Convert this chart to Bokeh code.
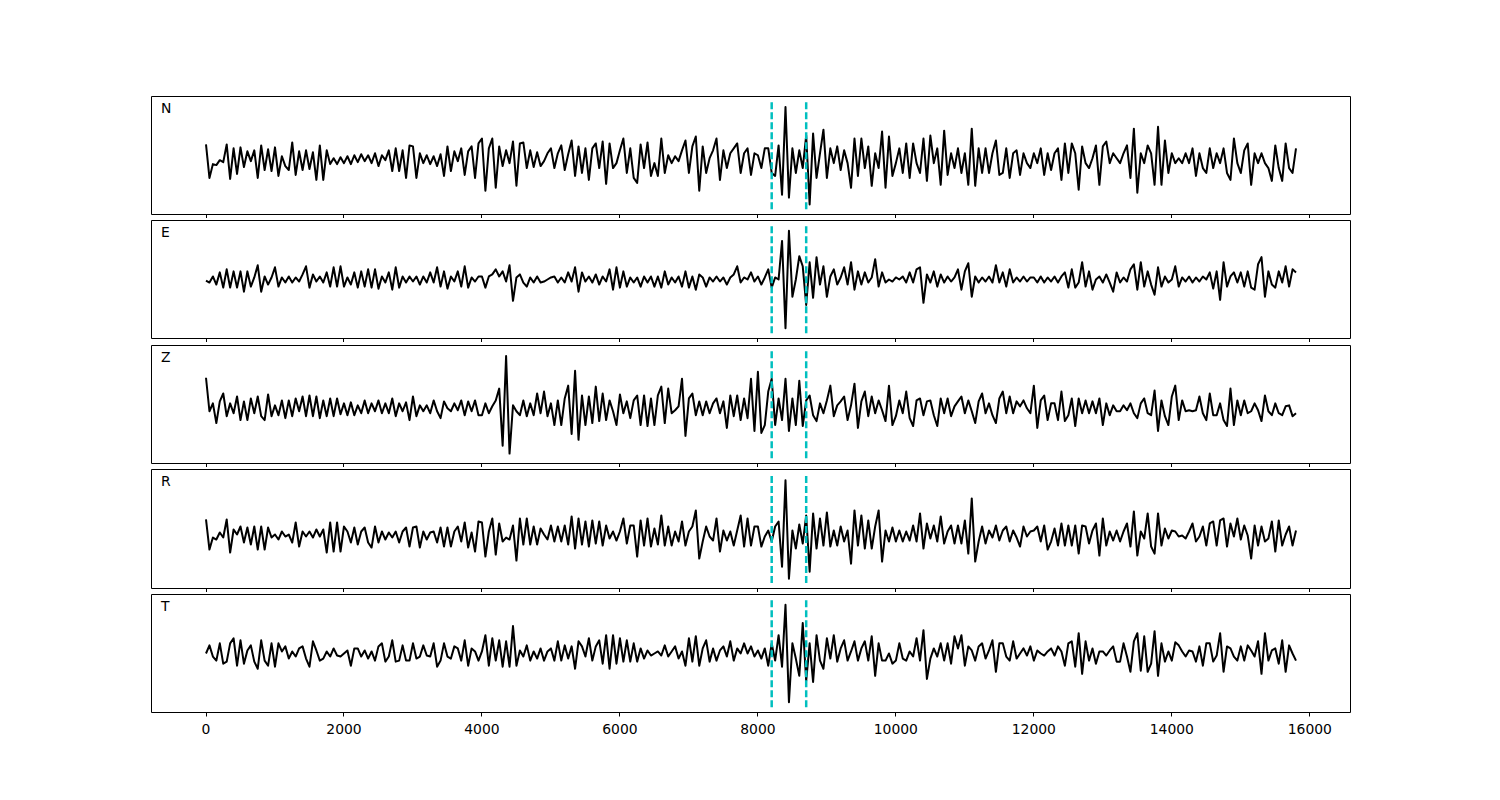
import numpy as np
from bokeh.plotting import figure
from bokeh.models import Range1d, FixedTicker, Label, CustomLabelingPolicy
from bokeh.layouts import column
from bokeh.embed import file_html
from bokeh.resources import INLINE

# ---------------- data ----------------
step = 50  # sample spacing (x units)
components = ["N", "E", "Z", "R", "T"]
picks = [8200, 8700]
x_ticks = [0, 2000, 4000, 6000, 8000, 10000, 12000, 14000, 16000]

trace_N = [
    14, -20, -6, -7, -2, -4, 14, -21, 10, -16, 11, -9, 7, -3, 8, -20, 13, -12, 9, -13,
    11, -18, 2, -8, -12, 16, -17, 7, -12, 8, -11, 6, -22, 13, -22, 8, -6, 0, -6, 1,
    -5, 2, -6, 3, -4, 4, -3, 3, -5, 5, -8, 3, -2, 8, -13, 10, -13, 8, -20, 13,
    12, -20, 5, -5, 3, -6, 2, -8, 4, -18, 12, -13, 7, -3, 10, -17, 7, 12, -20, 15,
    20, -33, 10, 20, -30, 12, -8, 8, -5, 17, -28, 15, 16, -10, 8, -9, 6, -8, -3, 5,
    10, -10, 5, 13, -12, 4, 18, -18, 12, -15, 10, -22, 10, 15, -10, 17, -26, 15, -10, -5,
    8, 20, -15, 10, -20, -25, 14, -10, 16, -18, -5, -18, 20, -15, 3, -5, 2, -3, 8, 18,
    -15, 12, 22, -33, 12, -15, 0, 8, 20, -22, 8, -10, 5, 10, 15, -15, 5, 10, -17, 5,
    3, -10, 10, 10, -15, -18, 13, -37, 52, -40, 10, -15, 8, -10, 23, -47, 25, -20, 5, 29,
    -20, 10, -5, 12, -12, 8, -5, -30, 20, -18, 20, -10, 12, -28, 5, -10, 27, -30, 22, -18,
    -5, 10, -15, 15, -20, 15, -5, -15, 20, -23, 23, -5, 10, -27, 28, -17, 5, -10, 10, -15,
    5, -27, 30, -28, 10, -15, 10, -15, 5, 18, -17, -15, 10, -20, 5, 8, -17, 5, -5, -10,
    5, -5, 10, -17, 5, -12, 5, 10, -22, 15, -15, 15, 5, -32, 12, -5, -10, 0, 13, -27,
    12, 17, -5, 5, 0, -5, 5, 13, -20, 30, -35, 5, -5, 13, 5, -27, 32, -27, 18, -15,
    5, -5, 0, -5, 5, -5, 10, -18, 5, -10, -15, 10, -10, 5, -5, 10, -15, -22, 20, -5,
    -15, 8, 15, -27, 5, -5, 5, -5, -10, -23, 13, -10, -23, 15, -10, -15, 10,
]
trace_E = [
    -1, -3, 3, -5, 7, -8, 10, -8, 8, -8, 8, -12, 8, -7, 2, 14, -12, 3, -5, 2,
    12, -7, 2, -3, 3, -3, 2, -2, 5, 13, -8, 5, -2, 3, -3, 7, -7, 12, -7, 13,
    -7, 2, -5, 7, -8, 8, -7, 10, -8, 10, -9, 3, -3, 7, -10, 12, -8, 3, -3, 3,
    -2, 3, -5, 3, -3, 7, -3, 12, -7, 8, -9, 3, -2, 8, -7, 13, -8, 2, -2, 3,
    3, -8, 3, 5, 10, 3, 8, -2, 14, -21, 2, 5, -3, -7, 2, -3, 3, -3, -2, 0,
    2, 3, -3, 2, -3, 7, -2, 12, -12, 7, -2, 3, -3, 5, -5, 3, -2, 10, -10, 12,
    -8, 8, -7, 2, -3, 2, -7, 3, -3, 3, -7, 3, -8, 8, -5, 2, -3, 3, -7, 8,
    -8, 3, -10, 5, 2, -7, 2, -2, 3, -2, 2, -5, 2, 5, 13, -3, 2, 0, 7, -2,
    3, -5, 2, 10, -8, 2, 0, 38, -48, 48, -17, 0, 23, 13, -25, 17, -18, 22, -5, 13,
    -17, 3, 10, -5, 2, 12, -5, 17, -10, 8, -5, 7, -3, 2, 20, -7, 7, -3, 0, -2,
    2, 0, 3, -3, 7, -3, 10, 12, -23, 5, -3, 8, -7, 5, -3, 3, -2, 2, 10, -10,
    8, 16, -17, 3, -3, 2, -2, 3, -3, 14, -3, 7, -7, 10, -3, 2, -2, 3, -2, 2,
    2, -3, 3, -3, 2, -2, 3, -3, 3, 7, -8, 10, -8, -3, 17, -7, 8, -10, 0, 3,
    -3, 5, -3, -12, 7, -3, 2, -2, 10, 15, -10, 17, -7, 8, -5, -15, 12, -7, 3, -3,
    0, 13, -7, 2, -2, 3, -3, 2, -2, 3, 0, 7, -9, 8, -20, 17, -7, 3, 7, -3,
    7, -7, 8, -8, -10, 15, 22, -17, 8, -5, -8, 8, -3, 13, -7, 10, 7,
]
trace_Z = [
    31, -3, 5, -15, 7, 15, -8, 5, -5, 12, -12, 7, -12, 10, -5, 12, -8, -12, 14, -8,
    3, -7, 8, -10, 8, -8, 10, -3, 12, -8, 13, -8, 12, -10, 8, -8, 10, -8, 10, -6,
    5, -7, 6, -7, 3, -5, 8, -5, 5, -3, 8, -5, 5, -5, 10, -8, 5, -3, 6, -12,
    12, -8, 3, -3, 3, -5, 8, -3, -10, 7, 0, -3, 5, -2, 8, -7, 7, -3, 8, -7,
    -7, 5, -5, 2, 8, 20, -38, 53, -46, 3, -3, -7, 8, -8, 5, -7, 15, -5, 17, -8,
    5, -17, 8, -17, 10, 23, -26, 38, -32, 13, -17, 12, -15, 22, -13, 15, -12, 8, -3, -17,
    14, -5, 7, -10, 8, 13, -17, 13, -18, 10, -17, 13, 22, -15, 20, -5, -2, 2, 30, -28,
    10, 15, -7, 7, -7, 7, -5, 5, 10, -5, 7, -20, 13, -8, 13, -12, 10, -10, 30, -23,
    37, -25, -17, 17, 30, -17, 10, -12, 30, -23, 10, -17, 28, -18, 8, 13, -7, -13, 5, -5,
    8, 23, -8, 3, 7, 12, -12, 3, 25, -20, 7, 17, -8, 12, -5, 8, -2, -13, 23, -17,
    -8, 8, -5, 17, -10, -18, 8, 10, -7, 7, 8, -7, -18, 10, -5, 10, -8, 2, 7, 12,
    -5, 8, -3, -15, 7, 15, -5, 5, -7, -15, 10, 17, -5, 12, -5, 7, 2, 8, 0, -5,
    23, -20, 8, 13, -12, 5, 5, -12, 17, -13, -7, 10, -18, 10, -5, 8, -5, 7, -5, 10,
    -17, 5, -7, 3, -3, -3, 3, -2, 5, -5, -10, 5, 10, -5, -7, 18, -23, 8, -8, -17,
    12, 23, -12, 8, -3, -2, -3, -2, 12, -5, -12, 15, -7, -7, 5, -12, -18, 20, -17, 8,
    -7, 8, -5, -3, 5, -2, -13, 13, -3, -7, 5, -5, -7, 2, 3, -8, -5,
]
trace_R = [
    15, -15, -3, -5, 2, -3, 15, -18, 5, 0, 8, -8, 7, -10, 8, -15, 8, -15, 7, -3,
    0, -5, 3, -2, 0, -8, 12, -12, 3, -2, 3, -3, 5, -2, 5, -18, 12, -17, 12, -17,
    8, 3, -8, 7, -10, 3, 7, -8, -13, 8, -8, 3, -5, 2, -3, 3, -8, 3, 7, -12,
    7, 8, -13, 3, -5, 2, 3, -8, 7, -12, 7, -12, 3, 8, -7, 12, -13, 2, -17, 13,
    12, -22, 3, 16, -20, 11, -7, -3, -5, 9, -26, 16, -10, 16, -10, 8, -10, 6, 0, -5,
    9, -7, 8, -7, 9, -10, 18, -14, 16, -10, 13, -12, 14, -9, 13, -11, 9, -4, 3, -6,
    3, 16, -9, 9, 9, -22, 14, -11, 16, -12, 6, -10, 19, -11, 8, -11, 3, -7, 13, -11,
    3, 8, 24, -24, -7, 8, -2, -6, 16, -17, 4, -6, 3, -11, 4, 19, -12, 16, -11, 8,
    8, -12, -2, 4, -7, 8, 13, -32, 54, -44, 4, -14, 10, -9, 19, -37, 21, -14, 16, -11,
    22, -12, 4, -11, 8, -7, 4, -29, 24, -11, 19, -14, 14, -14, 8, 24, -27, 4, -7, 7,
    -7, 4, -7, 3, -6, 9, -7, 21, -14, 11, -4, 9, -7, 18, -9, 3, 9, -9, 9, -9,
    14, -19, 36, -27, -7, 8, -9, 4, -3, 9, -6, 4, 8, -7, 4, -3, -12, 8, -2, 3,
    4, 8, -7, 9, -15, -7, 6, -11, 11, -11, 9, -11, 9, -19, 9, 8, -9, 4, 11, -21,
    16, -11, 3, -6, 4, -7, 3, 11, -12, 23, -21, 3, -4, 21, -12, -19, 21, -11, 6, -4,
    4, 3, -2, -1, -4, 3, 11, -7, -2, 8, -11, 11, 13, -11, 14, 16, -12, 11, -2, 16,
    -5, 9, -1, -24, 9, -11, 8, -7, -4, 13, -17, 14, -11, 0, 8, -11, 4,
]
trace_T = [
    0, 8, -3, -7, 10, -10, -8, 10, 15, -12, 13, -10, 3, 8, -8, -15, 13, -7, -12, 10,
    -13, 10, 2, 7, -5, 2, -3, 5, 7, -5, -13, 12, 3, -7, -5, 2, -3, 5, -2, -3,
    0, 3, -12, 5, 5, -3, 3, -5, 2, -7, 7, 10, -8, -3, 13, -8, -7, 8, -7, -7,
    10, -5, -3, 8, -2, -3, 10, -13, -7, 10, -3, -5, 7, 5, -7, 13, -12, 5, 2, -7,
    2, 18, -12, 15, -7, 13, -13, 12, -13, 27, -12, 3, -3, 8, -7, 2, -5, 5, -7, 2,
    5, -7, 12, -7, 8, -5, 7, -15, 12, 7, -3, 15, -7, 7, 13, -10, 18, -15, 18, -10,
    15, -8, 13, -8, 10, -8, 5, -5, 3, -2, 0, 2, -2, 8, -3, 2, 7, -5, 2, -12,
    15, -8, 17, -12, 5, 13, -8, 5, -7, 3, 7, -3, 12, -7, 5, 0, 10, 0, 7, -3,
    3, -5, 5, -12, 10, -7, 18, -13, 48, -48, 10, -5, -22, 30, -27, 10, -28, 18, -7, -15,
    15, -5, 18, -8, 5, 13, -7, 2, 12, -7, 5, 12, -7, 17, -22, 10, -7, -7, 0, -10,
    -7, 10, -5, -7, 2, -3, 15, -7, 23, -25, -5, 5, -3, 10, -7, 10, -10, 17, 5, 18,
    -12, 7, 3, -7, 7, 10, -5, 3, 13, -18, 10, 10, -3, -7, 12, -5, 0, 5, -2, 7,
    -7, 3, 0, -2, 2, 5, -2, 7, 2, -12, 10, 12, -13, 20, -20, 12, -7, 5, -10, 2,
    2, -2, 3, 7, -8, -8, 10, -3, -18, 12, 20, -17, 17, -18, -10, 22, -22, 10, -8, 2,
    -7, 11, 8, 2, -3, 3, 2, -8, 7, -12, 10, 10, -8, -2, 20, -18, 7, 5, -3, -7,
    7, -7, 8, 3, -3, 12, -20, 20, -7, 3, 5, -10, 13, -18, 8, 0, -7,
]
traces = [trace_N, trace_E, trace_Z, trace_R, trace_T]

# ---------------- layout ----------------
FONT = "DejaVu Sans"
x_range = Range1d(-790, 16590)
tops = [96, 2, 3, 2, 2]
bottoms = [4, 4, 4, 4, 50]
frames = [118, 118, 118, 119, 118]
hide_labels = CustomLabelingPolicy(code="""
    for (const i of Array.from(indices)) { indices.unset(i) }
    return indices
""")

figs = []
for i, (name, vals) in enumerate(zip(components, traces)):
    v = np.asarray(vals, dtype=float)
    t = np.arange(len(v)) * step
    lo, hi = 1.1 * v.min(), 1.1 * v.max()
    pad = 0.05 * (hi - lo)
    y0, y1 = lo - pad, hi + pad
    last = i == len(components) - 1
    p = figure(width=1360, height=tops[i] + frames[i] + bottoms[i],
               x_range=x_range, y_range=Range1d(y0, y1),
               output_backend="svg", toolbar_location=None,
               min_border_left=151, min_border_right=10,
               min_border_top=tops[i], min_border_bottom=bottoms[i],
               background_fill_color="white", border_fill_color="white")
    p.outline_line_color = "black"
    p.outline_line_width = 1
    p.xgrid.visible = False
    p.ygrid.visible = False
    p.yaxis.visible = False
    ax = p.xaxis[0]
    ax.ticker = FixedTicker(ticks=x_ticks)
    ax.axis_line_color = None
    ax.major_tick_in = 0
    ax.major_tick_out = 4
    ax.major_tick_line_color = "black"
    ax.minor_tick_line_color = None
    if last:
        ax.major_label_text_font = FONT
        ax.major_label_text_font_size = "13.9px"
        ax.major_label_text_color = "black"
        ax.major_label_standoff = 7
    else:
        ax.major_label_text_font_size = "0px"
        ax.major_label_standoff = 0
        ax.major_label_policy = hide_labels

    p.line(t, v, line_color="black", line_width=2, line_join="round")
    p.segment(x0=picks, y0=[lo] * len(picks), x1=picks, y1=[hi] * len(picks),
              line_color="#00bfbf", line_width=2.5, line_dash="7 3")
    xs = x_range.start + 0.008 * (x_range.end - x_range.start)
    ys = y0 + 0.90 * (y1 - y0)
    p.add_layout(Label(x=xs, y=ys, text=name, text_font=FONT,
                       text_font_size="13.9px", text_color="black",
                       text_baseline="alphabetic", text_align="left"))
    figs.append(p)

layout = column(*figs, spacing=0)
open("out.html", "w").write(file_html(layout, INLINE))
